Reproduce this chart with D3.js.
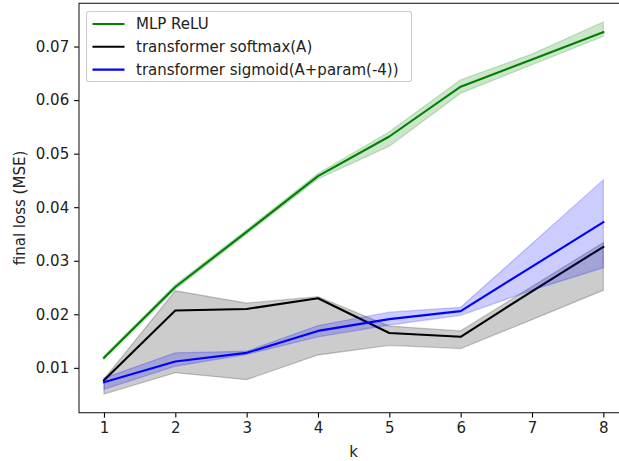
<!DOCTYPE html>
<html>
<head>
<meta charset="utf-8">
<script src="https://cdn.jsdelivr.net/npm/d3@7"></script>
<style>
  html, body { margin: 0; padding: 0; background: #fff; overflow: hidden; }
  svg { display: block; font-family: "DejaVu Sans", sans-serif; }
</style>
</head>
<body>
<svg id="chart" width="619" height="461"></svg>
<script>
// ---- data ----
const ks = [1, 2, 3, 4, 5, 6, 7, 8];

const mlpMean  = [0.0119, 0.0251, 0.0354, 0.0458, 0.0532, 0.0625, 0.0676, 0.0727];
const mlpLow   = [0.0116, 0.0247, 0.0350, 0.0453, 0.0514, 0.0613, 0.0666, 0.0719];
const mlpHigh  = [0.0122, 0.0255, 0.0358, 0.0463, 0.0541, 0.0638, 0.0686, 0.0746];

const softMean = [0.0077, 0.0207, 0.0210, 0.0230, 0.0165, 0.0158, 0.0243, 0.0326];
const softLow  = [0.0051, 0.0091, 0.0078, 0.0124, 0.0142, 0.0136, 0.0190, 0.0245];
const softHigh = [0.0079, 0.0244, 0.0221, 0.0233, 0.0178, 0.0169, 0.0252, 0.0334];

const sigMean  = [0.0073, 0.0112, 0.0128, 0.0169, 0.0191, 0.0206, 0.0289, 0.0372];
const sigLow   = [0.0060, 0.0103, 0.0125, 0.0158, 0.0180, 0.0198, 0.0245, 0.0287];
const sigHigh  = [0.0081, 0.0128, 0.0131, 0.0179, 0.0204, 0.0213, 0.0332, 0.0451];

const seriesNames = ["MLP ReLU", "transformer softmax(A)", "transformer sigmoid(A+param(-4))"];
const seriesColors = ["#008000", "#000000", "#0000ff"];

const xTicks = [1, 2, 3, 4, 5, 6, 7, 8];
const yTicks = [0.01, 0.02, 0.03, 0.04, 0.05, 0.06, 0.07];
const xLabel = "k";
const yLabel = "final loss (MSE)";

// ---- build ----
const series = [
  { name: seriesNames[0], color: seriesColors[0], mean: mlpMean, low: mlpLow, high: mlpHigh },
  { name: seriesNames[1], color: seriesColors[1], mean: softMean, low: softLow, high: softHigh },
  { name: seriesNames[2], color: seriesColors[2], mean: sigMean, low: sigLow, high: sigHigh }
];

const FS = "15px";
const svg = d3.select("#chart");
const pL = 79, pR = 628.3, pT = 3.3, pB = 412.7;

const xMin = d3.min(ks), xMax = d3.max(ks);
const xPad = (xMax - xMin) * 0.05;
const x = d3.scaleLinear().domain([xMin - xPad, xMax + xPad]).range([pL, pR]);

const allLow = d3.min(series.flatMap(s => s.low));
const allHigh = d3.max(series.flatMap(s => s.high));
const yPad = (allHigh - allLow) * 0.05;
const y = d3.scaleLinear().domain([allLow - yPad, allHigh + yPad]).range([pB, pT]);

const plot = svg.append("g");

series.forEach(s => {
  const pts = ks.map((k, i) => ({ k, m: s.mean[i], lo: s.low[i], hi: s.high[i] }));
  const area = d3.area().x(d => x(d.k)).y0(d => y(d.lo)).y1(d => y(d.hi));
  plot.append("path").datum(pts)
    .attr("d", area)
    .attr("fill", s.color).attr("fill-opacity", 0.2)
    .attr("stroke", s.color).attr("stroke-opacity", 0.2).attr("stroke-width", 1.3);
  const line = d3.line().x(d => x(d.k)).y(d => y(d.m));
  plot.append("path").datum(pts)
    .attr("d", line)
    .attr("fill", "none")
    .attr("stroke", s.color).attr("stroke-width", 2.1)
    .attr("stroke-linejoin", "round").attr("stroke-linecap", "square");
});

// axes
const xAxis = d3.axisBottom(x).tickValues(xTicks).tickFormat(d3.format("d")).tickSizeOuter(0).tickSize(4.9).tickPadding(4.9);
const yAxis = d3.axisLeft(y).tickValues(yTicks).tickFormat(d3.format(".2f")).tickSizeOuter(0).tickSize(4.9).tickPadding(4.9);

const gx = svg.append("g").attr("transform", `translate(0,${pB})`).call(xAxis);
const gy = svg.append("g").attr("transform", `translate(${pL},0)`).call(yAxis);
[gx, gy].forEach(g => {
  g.select(".domain").remove();
  g.selectAll(".tick line").attr("stroke", "#000").attr("stroke-width", 1.1);
  g.selectAll(".tick text").attr("font-size", FS).attr("fill", "#222")
    .attr("font-family", "DejaVu Sans, sans-serif");
});

// spines
svg.append("rect")
  .attr("x", pL).attr("y", pT)
  .attr("width", pR - pL).attr("height", pB - pT)
  .attr("fill", "none").attr("stroke", "#222").attr("stroke-width", 1.1);

// axis labels
svg.append("text")
  .attr("x", (pL + pR) / 2).attr("y", 456.5)
  .attr("text-anchor", "middle").attr("font-size", FS).attr("fill", "#222").text(xLabel);
svg.append("text")
  .attr("transform", `translate(25,${(pT + pB) / 2}) rotate(-90)`)
  .attr("text-anchor", "middle").attr("font-size", FS).attr("fill", "#222").text(yLabel);

// legend
const lg = svg.append("g");
lg.append("rect")
  .attr("x", 86.5).attr("y", 11.5).attr("width", 325).attr("height", 70)
  .attr("rx", 2.5)
  .attr("fill", "#fff").attr("fill-opacity", 0.8)
  .attr("stroke", "#ccc").attr("stroke-width", 1.1);
series.forEach((s, i) => {
  const yy = 24 + i * 22.8;
  lg.append("line")
    .attr("x1", 92.5).attr("x2", 124.5).attr("y1", yy).attr("y2", yy)
    .attr("stroke", s.color).attr("stroke-width", 2.1);
  lg.append("text")
    .attr("x", 136).attr("y", yy).attr("dy", "0.36em")
    .attr("font-size", FS).attr("fill", "#222").text(s.name);
});
</script>
</body>
</html>
